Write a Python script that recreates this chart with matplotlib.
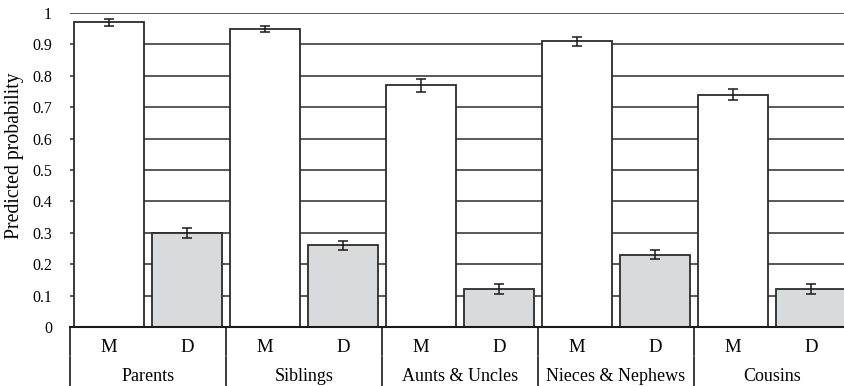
import matplotlib
matplotlib.use("Agg")
import matplotlib.pyplot as plt
import numpy as np

groups = ["Parents", "Siblings", "Aunts & Uncles", "Nieces & Nephews", "Cousins"]
subcats = ["M", "D"]
m_vals = [0.97, 0.95, 0.77, 0.91, 0.74]
d_vals = [0.30, 0.26, 0.12, 0.23, 0.12]
m_err = [0.010, 0.010, 0.020, 0.015, 0.018]
d_err = [0.015, 0.015, 0.016, 0.014, 0.016]
yticks = [0, 0.1, 0.2, 0.3, 0.4, 0.5, 0.6, 0.7, 0.8, 0.9, 1.0]
ytick_labels = ["0", "0.1", "0.2", "0.3", "0.4", "0.5", "0.6", "0.7", "0.8", "0.9", "1"]

plt.rcParams["font.family"] = ["Liberation Serif", "DejaVu Serif"]

fig = plt.figure(figsize=(8.45, 3.86), dpi=100)
ax = fig.add_axes([70 / 845, 1 - 327 / 386, 780 / 845, 314 / 386])

edge = "#2b2b2b"
values, errors, colors = [], [], []
for m, d, me, de in zip(m_vals, d_vals, m_err, d_err):
    values += [m, d]
    errors += [me, de]
    colors += ["white", "#d9dadc"]
x = np.arange(len(values))

ax.bar(x, values, width=0.885, color=colors, edgecolor=edge, linewidth=1.3, zorder=2)
ax.errorbar(x, values, yerr=errors, fmt="none", ecolor="#1a1a1a",
            elinewidth=1.1, capsize=3.5, capthick=1.1, zorder=3)

ax.set_xlim(-0.5, len(values) - 0.5)
ax.set_ylim(0, 1)
ax.set_yticks(yticks)
ax.set_yticklabels(ytick_labels, fontsize=11.5)
ax.tick_params(axis="y", length=0, pad=13)
ax.set_xticks([])
ax.yaxis.grid(True, color=edge, linewidth=1.1, zorder=0)
ax.set_axisbelow(True)
for s in ["left", "right", "top"]:
    ax.spines[s].set_visible(False)
ax.spines["bottom"].set_linewidth(1.5)
ax.spines["bottom"].set_color("#1a1a1a")
fig.text(15 / 845, 1 - 156 / 386, "Predicted probability", rotation=90,
         ha="center", va="center", fontsize=14.2)

trans = ax.get_xaxis_transform()
for i in range(len(values)):
    ax.text(x[i], -0.0796, subcats[i % 2], transform=trans, ha="center",
            va="baseline", fontsize=13.5)
for g, name in enumerate(groups):
    ax.text(2 * g + 0.5, -0.172, name, transform=trans, ha="center",
            va="baseline", fontsize=13)
# divider lines between the groups, with a small break between the two label rows
for g in range(len(groups) + 1):
    xd = 2 * g - 0.5
    ax.plot([xd, xd], [0, -0.088], transform=trans,
            color="#1a1a1a", linewidth=1.2, clip_on=False)
    ax.plot([xd, xd], [-0.094, -0.2], transform=trans,
            color="#1a1a1a", linewidth=1.2, clip_on=False)

fig.savefig("out.png", dpi=100)
